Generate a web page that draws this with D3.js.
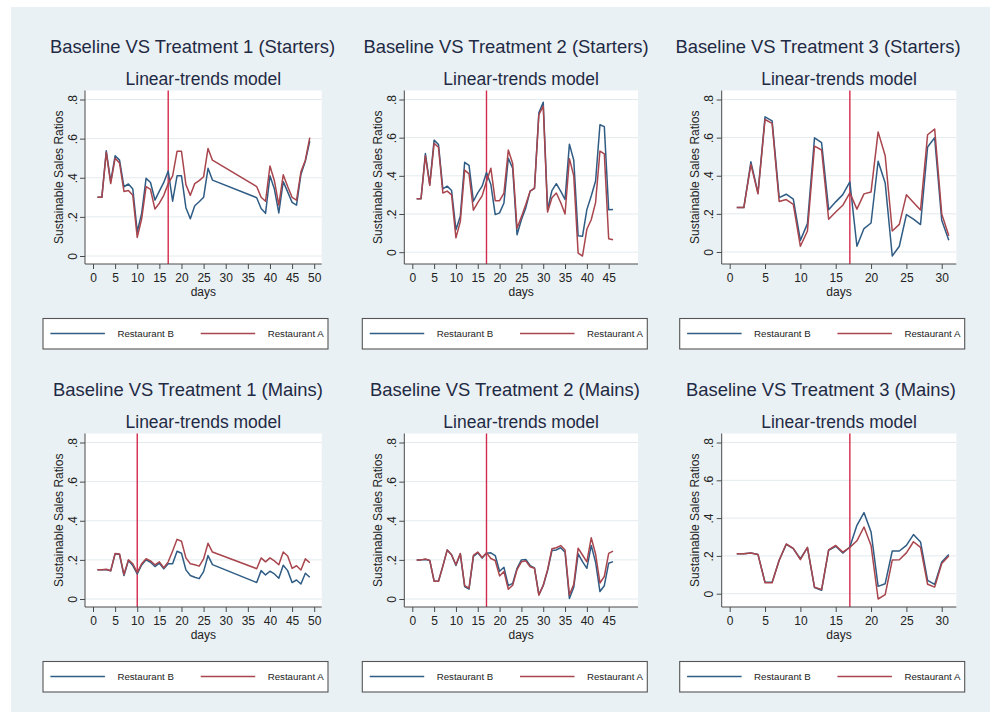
<!DOCTYPE html>
<html>
<head>
<meta charset="utf-8">
<script src="https://cdn.jsdelivr.net/npm/d3@7"></script>
<style>
  html, body { margin: 0; padding: 0; background: #ffffff; }
  svg { display: block; font-family: "Liberation Sans", Arial, sans-serif; }
</style>
</head>
<body>
<svg id="chart" width="993" height="717"></svg>
<script>
// ---- Data -------------------------------------------------------------
const panelTitles = [
  "Baseline VS Treatment 1 (Starters)",
  "Baseline VS Treatment 2 (Starters)",
  "Baseline VS Treatment 3 (Starters)",
  "Baseline VS Treatment 1 (Mains)",
  "Baseline VS Treatment 2 (Mains)",
  "Baseline VS Treatment 3 (Mains)"
];
const subtitle = "Linear-trends model";
const yTitle = "Sustainable Sales Ratios";
const xTitle = "days";
const seriesNames = ["Restaurant B", "Restaurant A"];

const yTicks = [0, 0.2, 0.4, 0.6, 0.8];
const yTickLabels = ["0", ".2", ".4", ".6", ".8"];
const xTicksT1 = [0, 5, 10, 15, 20, 25, 30, 35, 40, 45, 50];
const xTicksT2 = [0, 5, 10, 15, 20, 25, 30, 35, 40, 45];
const xTicksT3 = [0, 5, 10, 15, 20, 25, 30];

const daysT1 = [1, 2, 3, 4, 5, 6, 7, 8, 9, 10, 11, 12, 13, 14, 15, 16, 17, 18, 19, 20,
  21, 22, 23, 24, 25, 26, 27, 37, 38, 39, 40, 41, 42, 43, 44, 45, 46, 47, 48, 49];
const daysT2 = [1, 2, 3, 4, 5, 6, 7, 8, 9, 10, 11, 12, 13, 14, 15, 16, 17, 18, 19, 20,
  21, 22, 23, 24, 25, 26, 27, 28, 29, 30, 31, 32, 33, 34, 35, 36, 37, 38, 39, 40,
  41, 42, 43, 44, 45, 46];
const daysT3 = [1, 2, 3, 4, 5, 6, 7, 8, 9, 10, 11, 12, 13, 14, 15, 16, 17, 18, 19, 20,
  21, 22, 23, 24, 25, 26, 27, 28, 29, 30, 31];

// Treatment start day per panel
const treatmentDay = [17, 17, 17, 10, 17, 17];

// Starters
const startersT1B = [0.30, 0.30, 0.538, 0.38, 0.512, 0.49, 0.354, 0.368, 0.342, 0.124,
  0.218, 0.397, 0.376, 0.286, 0.332, 0.376, 0.434, 0.28, 0.41, 0.41,
  0.247, 0.19, 0.257, 0.277, 0.30, 0.448, 0.388,
  0.298, 0.243, 0.218, 0.41, 0.342, 0.22, 0.38, 0.328, 0.274, 0.26, 0.417, 0.485, 0.587];
const startersT1A = [0.30, 0.30, 0.53, 0.37, 0.50, 0.475, 0.33, 0.335, 0.31, 0.095,
  0.19, 0.355, 0.34, 0.24, 0.27, 0.31, 0.37, 0.41, 0.535, 0.535,
  0.365, 0.31, 0.37, 0.385, 0.405, 0.55, 0.49,
  0.355, 0.30, 0.28, 0.46, 0.385, 0.26, 0.415, 0.355, 0.30, 0.285, 0.43, 0.49, 0.605];

const startersT2B = [0.28, 0.28, 0.517, 0.355, 0.587, 0.564, 0.332, 0.346, 0.323, 0.118,
  0.188, 0.471, 0.455, 0.267, 0.311, 0.346, 0.417, 0.355, 0.197, 0.206,
  0.258, 0.492, 0.44, 0.091, 0.17, 0.232, 0.32, 0.334, 0.73, 0.786,
  0.223, 0.323, 0.359, 0.32, 0.276, 0.566, 0.482, 0.086, 0.083, 0.223,
  0.294, 0.373, 0.668, 0.658, 0.222, 0.223];
const startersT2A = [0.28, 0.28, 0.505, 0.35, 0.57, 0.55, 0.31, 0.32, 0.30, 0.075,
  0.16, 0.43, 0.41, 0.22, 0.26, 0.295, 0.37, 0.44, 0.27, 0.27,
  0.31, 0.535, 0.465, 0.125, 0.185, 0.25, 0.32, 0.335, 0.72, 0.765,
  0.21, 0.285, 0.31, 0.26, 0.20, 0.49, 0.40, -0.005, -0.02, 0.12,
  0.17, 0.26, 0.53, 0.515, 0.07, 0.065];

const startersT3B = [0.233, 0.233, 0.473, 0.31, 0.709, 0.688, 0.285, 0.303, 0.277, 0.061,
  0.149, 0.599, 0.574, 0.222, 0.263, 0.301, 0.368, 0.03, 0.123, 0.152,
  0.476, 0.362, -0.021, 0.03, 0.196, 0.172, 0.144, 0.551, 0.599, 0.166, 0.061];
const startersT3A = [0.233, 0.233, 0.46, 0.305, 0.695, 0.675, 0.265, 0.275, 0.25, 0.03,
  0.11, 0.555, 0.535, 0.172, 0.21, 0.245, 0.31, 0.225, 0.305, 0.315,
  0.63, 0.505, 0.11, 0.145, 0.30, 0.26, 0.22, 0.615, 0.645, 0.20, 0.085];

// Mains
const mainsT1B = [0.149, 0.149, 0.149, 0.144, 0.231, 0.227, 0.12, 0.197, 0.171, 0.128,
  0.174, 0.20, 0.188, 0.166, 0.183, 0.154, 0.18, 0.18, 0.244, 0.234,
  0.149, 0.12, 0.111, 0.104, 0.14, 0.222, 0.176,
  0.084, 0.145, 0.123, 0.142, 0.128, 0.106, 0.173, 0.145, 0.084, 0.097, 0.077, 0.132, 0.111];
const mainsT1A = [0.149, 0.149, 0.152, 0.144, 0.233, 0.23, 0.125, 0.20, 0.18, 0.135,
  0.18, 0.206, 0.195, 0.175, 0.19, 0.16, 0.19, 0.245, 0.305, 0.295,
  0.21, 0.18, 0.175, 0.168, 0.205, 0.285, 0.24,
  0.155, 0.21, 0.19, 0.21, 0.195, 0.175, 0.24, 0.22, 0.157, 0.17, 0.148, 0.205, 0.185];

const mainsT2B = [0.20, 0.20, 0.202, 0.197, 0.091, 0.091, 0.168, 0.251, 0.226, 0.171,
  0.231, 0.063, 0.05, 0.217, 0.236, 0.209, 0.234, 0.236, 0.222, 0.142,
  0.162, 0.068, 0.08, 0.157, 0.20, 0.202, 0.171, 0.159, 0.022, 0.068,
  0.145, 0.248, 0.251, 0.262, 0.239, 0.003, 0.06, 0.231, 0.191, 0.157,
  0.274, 0.188, 0.038, 0.068, 0.183, 0.191];
const mainsT2A = [0.20, 0.20, 0.205, 0.197, 0.091, 0.091, 0.168, 0.25, 0.225, 0.175,
  0.233, 0.068, 0.056, 0.223, 0.24, 0.212, 0.237, 0.207, 0.197, 0.118,
  0.14, 0.05, 0.07, 0.15, 0.19, 0.195, 0.165, 0.157, 0.02, 0.07,
  0.15, 0.257, 0.262, 0.273, 0.25, 0.02, 0.075, 0.26, 0.225, 0.19,
  0.313, 0.23, 0.082, 0.115, 0.233, 0.245];

const mainsT3B = [0.212, 0.212, 0.215, 0.208, 0.06, 0.06, 0.177, 0.261, 0.238, 0.185,
  0.244, 0.032, 0.018, 0.23, 0.251, 0.215, 0.247, 0.362, 0.429, 0.327,
  0.039, 0.053, 0.226, 0.226, 0.256, 0.313, 0.274, 0.071, 0.049, 0.168, 0.207];
const mainsT3A = [0.212, 0.212, 0.215, 0.208, 0.058, 0.058, 0.177, 0.263, 0.24, 0.18,
  0.245, 0.035, 0.022, 0.232, 0.255, 0.22, 0.245, 0.28, 0.353, 0.255,
  -0.028, -0.005, 0.178, 0.18, 0.216, 0.275, 0.245, 0.05, 0.035, 0.16, 0.20];

// ---- Panel definitions -------------------------------------------------
const panels = [
  { days: daysT1, b: startersT1B, a: startersT1A, xMax: 50, xTicks: xTicksT1 },
  { days: daysT2, b: startersT2B, a: startersT2A, xMax: 50, xTicks: xTicksT2 },
  { days: daysT3, b: startersT3B, a: startersT3A, xMax: 31, xTicks: xTicksT3 },
  { days: daysT1, b: mainsT1B, a: mainsT1A, xMax: 50, xTicks: xTicksT1 },
  { days: daysT2, b: mainsT2B, a: mainsT2A, xMax: 50, xTicks: xTicksT2 },
  { days: daysT3, b: mainsT3B, a: mainsT3A, xMax: 31, xTicks: xTicksT3 }
];

// ---- Layout -------------------------------------------------------------
const colLeft = [85, 404.3, 721.7];
const colWidth = [236.7, 233.7, 234.6];
const rowTop = [90.5, 433.5];
const plotH = 173.5;
const titleCenter = [[192.5, 506, 818], [188, 505, 821]];

const colors = { b: "#2f5c84", a: "#a8454d", xline: "#d42a4c" };
const axisColor = "#4a4a4a";
const gridColor = "#e3eaed";
const textColor = "#222";
const titleColor = "#1f2a44";

const svg = d3.select("#chart");

// Outer graph region
svg.append("rect")
  .attr("x", 11).attr("y", 7).attr("width", 979).attr("height", 705)
  .attr("fill", "#eaf1f4");

panels.forEach((p, i) => {
  const row = Math.floor(i / 3), col = i % 3;
  const left = colLeft[col], top = rowTop[row];
  const width = colWidth[col], bottom = top + plotH;

  const yMin = Math.min(0, d3.min(p.b), d3.min(p.a));
  const x = d3.scaleLinear().domain([0, p.xMax]).range([left + 8, left + width - 7.5]);
  const y = d3.scaleLinear().domain([yMin, 0.8]).range([bottom - 8, top + 9]);

  const g = svg.append("g");

  // Titles
  g.append("text")
    .attr("x", titleCenter[row][col]).attr("y", top - 38)
    .attr("text-anchor", "middle").attr("font-size", 18.4)
    .attr("fill", titleColor).text(panelTitles[i]);
  g.append("text")
    .attr("x", left + width / 2).attr("y", top - 5.5)
    .attr("text-anchor", "middle").attr("font-size", 17.5)
    .attr("fill", titleColor).text(subtitle);

  // Plot region
  g.append("rect")
    .attr("x", left).attr("y", top).attr("width", width).attr("height", plotH)
    .attr("fill", "#ffffff");

  // Horizontal grid
  g.append("g").selectAll("line").data(yTicks).join("line")
    .attr("x1", left).attr("x2", left + width)
    .attr("y1", d => y(d)).attr("y2", d => y(d))
    .attr("stroke", gridColor).attr("stroke-width", 1);

  // Treatment start line
  g.append("line")
    .attr("x1", x(treatmentDay[i])).attr("x2", x(treatmentDay[i]))
    .attr("y1", top).attr("y2", bottom)
    .attr("stroke", colors.xline).attr("stroke-width", 1.4);

  // Series lines
  const line = d3.line().x(d => x(d[0])).y(d => y(d[1]));
  [["b", p.b], ["a", p.a]].forEach(([k, vals]) => {
    g.append("path")
      .datum(p.days.map((d, j) => [d, vals[j]]))
      .attr("d", line)
      .attr("fill", "none")
      .attr("stroke", colors[k])
      .attr("stroke-width", 1.5)
      .attr("stroke-linejoin", "round");
  });

  // Y axis
  const yAxis = d3.axisLeft(y).tickValues(yTicks).tickSize(5)
    .tickFormat((d, j) => yTickLabels[j]);
  const ya = g.append("g").attr("transform", `translate(${left},0)`).call(yAxis);
  ya.select(".domain").attr("d", `M0,${top}V${bottom}`).attr("stroke", axisColor);
  ya.selectAll(".tick line").attr("stroke", axisColor);
  ya.selectAll(".tick text")
    .attr("x", null).attr("dy", null)
    .attr("transform", "translate(-8.5,0) rotate(-90)")
    .attr("text-anchor", "middle")
    .attr("font-size", 12).attr("font-family", null)
    .attr("fill", textColor);

  // X axis
  const xAxis = d3.axisBottom(x).tickValues(p.xTicks).tickSize(5).tickFormat(d3.format("d"));
  const xa = g.append("g").attr("transform", `translate(0,${bottom})`).call(xAxis);
  xa.select(".domain").attr("d", `M${left},0H${left + width}`).attr("stroke", axisColor);
  xa.selectAll(".tick line").attr("stroke", axisColor);
  xa.selectAll(".tick text")
    .attr("y", 18.3).attr("dy", null)
    .attr("font-size", 12).attr("font-family", null)
    .attr("fill", textColor);

  // Axis titles
  g.append("text")
    .attr("transform", `translate(${left - 22.5},${top + plotH / 2}) rotate(-90)`)
    .attr("text-anchor", "middle").attr("font-size", 12)
    .attr("fill", textColor).text(yTitle);
  g.append("text")
    .attr("x", left + width / 2).attr("y", bottom + 31.5)
    .attr("text-anchor", "middle").attr("font-size", 12)
    .attr("fill", textColor).text(xTitle);

  // Legend
  const lx = left - 42, ly = bottom + 54.5;
  const lg = g.append("g").attr("transform", `translate(${lx},${ly})`);
  lg.append("rect").attr("width", 285).attr("height", 30.5)
    .attr("fill", "#ffffff").attr("stroke", "#555").attr("stroke-width", 1.1);
  const items = [
    { name: seriesNames[0], color: colors.b, x0: 7.4 },
    { name: seriesNames[1], color: colors.a, x0: 157.7 }
  ];
  items.forEach(it => {
    lg.append("line")
      .attr("x1", it.x0).attr("x2", it.x0 + 54.5)
      .attr("y1", 15).attr("y2", 15)
      .attr("stroke", it.color).attr("stroke-width", 1.6);
    lg.append("text")
      .attr("x", it.x0 + 67).attr("y", 18.6)
      .attr("font-size", 9.7).attr("fill", textColor).text(it.name);
  });
});
</script>
</body>
</html>
